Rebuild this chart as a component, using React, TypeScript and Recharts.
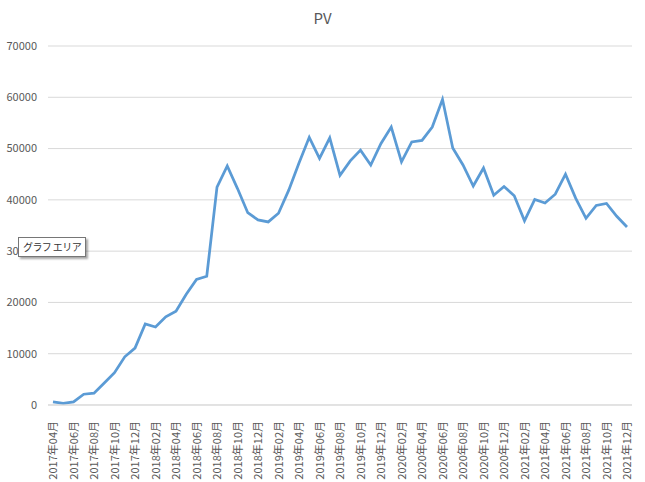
import { LineChart, Line, XAxis, YAxis, CartesianGrid } from 'recharts'

// 月 labels (2017年04月 .. 2021年12月)
const months: string[] = [
    '2017年04月', '2017年05月', '2017年06月', '2017年07月', '2017年08月', '2017年09月',
    '2017年10月', '2017年11月', '2017年12月',
    '2018年01月', '2018年02月', '2018年03月', '2018年04月', '2018年05月', '2018年06月',
    '2018年07月', '2018年08月', '2018年09月', '2018年10月', '2018年11月', '2018年12月',
    '2019年01月', '2019年02月', '2019年03月', '2019年04月', '2019年05月', '2019年06月',
    '2019年07月', '2019年08月', '2019年09月', '2019年10月', '2019年11月', '2019年12月',
    '2020年01月', '2020年02月', '2020年03月', '2020年04月', '2020年05月', '2020年06月',
    '2020年07月', '2020年08月', '2020年09月', '2020年10月', '2020年11月', '2020年12月',
    '2021年01月', '2021年02月', '2021年03月', '2021年04月', '2021年05月', '2021年06月',
    '2021年07月', '2021年08月', '2021年09月', '2021年10月', '2021年11月', '2021年12月',
]

const pv: number[] = [
    600, 300, 600, 2100, 2300, 4300, 6300, 9400, 11100,
    15800, 15200, 17200, 18300, 21600, 24500, 25100, 42500, 46600, 42200, 37500, 36100,
    35700, 37400, 41900, 47200, 52200, 48100, 52100, 44800, 47600, 49700, 46800, 51000,
    54200, 47400, 51300, 51600, 54200, 59600, 50100, 46800, 42700, 46200, 40900, 42600,
    40800, 35900, 40100, 39400, 41100, 45000, 40300, 36400, 38900, 39300, 36800, 34700,
]

const yTicks: number[] = [0, 10000, 20000, 30000, 40000, 50000, 60000, 70000]

const data = months.map((m, i) => ({ month: m, pv: pv[i] }))

const FONT = '"Noto Sans CJK JP", "Noto Sans", sans-serif'
const TEXT = '#595959'

const MonthTick = ({ x, y, payload }: any) => (
    <text
        x={x}
        y={y}
        transform={`rotate(-90, ${x}, ${y})`}
        dx={-8}
        dy={4}
        textAnchor="end"
        fontSize={11}
        fontFamily={FONT}
        fill={TEXT}
    >
        {payload.value}
    </text>
)

export default function App() {
    return (
        <div style={{ position: 'fixed', left: 0, top: 0, width: 645, height: 482, background: '#fff' }}>
            {/* Title */}
            <div
                style={{
                    position: 'absolute', left: 0, top: 7, width: 645, textAlign: 'center',
                    fontFamily: FONT, fontSize: 15, color: TEXT,
                }}
            >
                PV
            </div>

            <LineChart width={645} height={482} data={data} margin={{ top: 46, right: 13, left: 0, bottom: 0 }}>
                <CartesianGrid vertical={false} stroke="#D9D9D9" />
                <XAxis
                    dataKey="month"
                    interval={1}
                    height={77}
                    padding={{ left: 5, right: 5 }}
                    axisLine={{ stroke: '#D9D9D9' }}
                    tickLine={false}
                    tick={<MonthTick />}
                />
                <YAxis
                    width={48}
                    domain={[0, 70000]}
                    ticks={yTicks}
                    axisLine={false}
                    tickLine={false}
                    tickMargin={5}
                    tick={{ fontSize: 11, fontFamily: FONT, fill: TEXT }}
                />
                <Line
                    type="linear"
                    dataKey="pv"
                    stroke="#5B9BD5"
                    strokeWidth={2.75}
                    dot={false}
                    isAnimationActive={false}
                />
            </LineChart>

            {/* Excel hover label */}
            <div
                style={{
                    position: 'absolute', left: 18, top: 237, padding: '2px 4px',
                    background: '#fff', border: '1px solid #767676', boxShadow: '2px 2px 2px rgba(0,0,0,0.35)',
                    fontFamily: FONT, fontSize: 10, letterSpacing: -0.6, color: '#333',
                    lineHeight: '14px', whiteSpace: 'nowrap',
                }}
            >
                グラフ エリア
            </div>
        </div>
    )
}
